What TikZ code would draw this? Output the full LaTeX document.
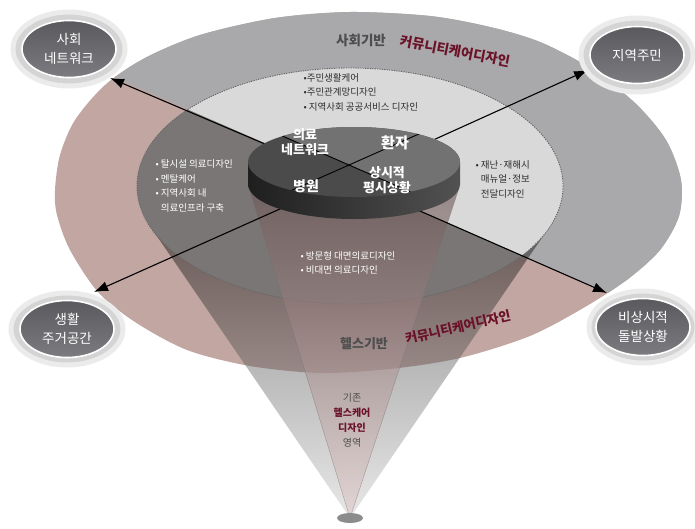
\documentclass[tikz,border=0pt]{standalone}
\usepackage{fontspec}
\setmainfont{Noto Sans CJK KR}
\usetikzlibrary{arrows.meta,shapes,positioning}
\definecolor{outergray}{HTML}{A9A9AB}
\definecolor{outerpink}{HTML}{C1A6A2}
\definecolor{innerlight}{HTML}{D9D9D9}
\definecolor{innerdark}{HTML}{7A7676}
\definecolor{discdark}{HTML}{4B4B4B}
\definecolor{disclight}{HTML}{727272}
\definecolor{carered}{HTML}{6B1228}
\definecolor{basegray}{HTML}{4E4E4E}
\definecolor{listgray}{HTML}{2E2E2E}
\definecolor{cornertop}{HTML}{5A5A5E}
\definecolor{cornerbot}{HTML}{7C7C80}
\definecolor{conetop}{HTML}{6E5555}
\definecolor{conebot}{HTML}{E2CACA}

\begin{document}
\begin{tikzpicture}[x=1pt,y=-1pt,
  corner/.style={ellipse,minimum width=94pt,minimum height=57pt,inner sep=0pt,
    top color=cornertop,bottom color=cornerbot,draw=white,line width=1.6pt,
    text=white,align=center,font=\fontsize{13.5}{19}\selectfont},
  halo/.style={fill=black!17,draw=black!8,line width=5pt},
  arr/.style={line width=1.1pt,-{Latex[length=14pt,width=10pt]}},
  dotline/.style={draw=black!60,line width=0.9pt,dash pattern=on 1.2pt off 1.2pt},
  disclabel/.style={text=white,align=center,font=\bfseries\fontsize{13}{15.5}\selectfont},
  items/.style={anchor=west,align=left,font=\fontsize{9.5}{14.5}\selectfont}]
\useasboundingbox (0,0) rectangle (695,528);

\coordinate (hub) at (347,179);
\coordinate (top) at (349,165);
\coordinate (tl) at (110,78);
\coordinate (tr) at (588,70);
\coordinate (bl) at (94,292);
\coordinate (br) at (607,293);

\def\outerline{(55,190) (60,155) (75,120) (105,85) (145,58) (200,35) (275,18) (350,12)
  (430,16) (490,27) (540,42) (590,68) (635,103) (666,140) (681,180) (679,216)
  (660,250) (628,279) (585,307) (530,336) (460,358) (390,369) (320,373) (250,366)
  (187,350) (135,322) (98,292) (70,250) (57,215)}

\fill[outerpink] plot[smooth cycle] coordinates {\outerline};
\begin{scope}
\clip plot[smooth cycle] coordinates {\outerline};
\fill[outergray] (-40,10) -- (760,359) -- (760,-40) -- (-40,-40) -- cycle;
\end{scope}

\shade[top color=black,bottom color=black!20,opacity=0.45] (350,518) -- (150,226) -- (550,226) -- cycle;

\fill[innerdark] (350,186) ellipse[x radius=213,y radius=118];
\begin{scope}
\clip (350,186) ellipse[x radius=213,y radius=118];
\fill[innerlight] (-40,10) -- (760,359) -- (760,-40) -- (-40,-40) -- cycle;
\end{scope}
\draw[dotline] (350,186) ellipse[x radius=213,y radius=118];

\shade[top color=conetop,bottom color=conebot,opacity=0.6] (350,518) -- (249,188) -- (459,188) -- cycle;
\draw[black!55,line width=0.4pt,opacity=0.6] (249,188) -- (350,518) -- (459,188);
\fill[black!45] (350,518) ellipse[x radius=13,y radius=5];

\draw[arr] (hub) -- (tl);
\draw[arr] (hub) -- (tr);
\draw[arr] (hub) -- (bl);
\draw[arr] (hub) -- (br);

\shade[left color=black!88,right color=black!68] (248,162) rectangle (460,184);
\shade[left color=black!88,right color=black!68] (354,184) ellipse[x radius=106,y radius=35];
\fill[discdark] (354,162) ellipse[x radius=106,y radius=35];
\begin{scope}
\clip (354,162) ellipse[x radius=106,y radius=35];
\fill[disclight] (200,100) -- (500,231) -- (500,80) -- (200,80) -- cycle;
\draw[line width=0.9pt] (200,100) -- (top) -- (500,231);
\draw[line width=0.9pt] (200,231) -- (top) -- (500,98);
\end{scope}

\node[text=basegray,font=\bfseries\fontsize{13.5}{15}\selectfont] (socialbase) at (361,40) {사회기반};
\node[text=carered,rotate=-11,font=\bfseries\fontsize{13.5}{15}\selectfont] (socialcare) at (455,51) {커뮤니티케어디자인};
\node[text=basegray,font=\bfseries\fontsize{13}{15}\selectfont] (healthbase) at (364,344) {헬스기반};
\node[text=carered,rotate=13,font=\bfseries\fontsize{13}{15}\selectfont] (healthcare) at (458,327) {커뮤니티케어디자인};

\node[disclabel] (medinet) at (305,142) {의료\\네트워크};
\node[disclabel,font=\bfseries\fontsize{15}{17}\selectfont] (patient) at (395,143) {환자};
\node[disclabel,font=\bfseries\fontsize{14}{16}\selectfont] (hospital) at (306,186) {병원};
\node[disclabel] (usual) at (387,180) {상시적\\평시상황};

\node[items,text=listgray] (topitems) at (300,92) {•주민생활케어\\•주민관계망디자인\\• 지역사회 공공서비스 디자인};
\node[items,text=white] (leftitems) at (152,186) {• 탈시설 의료디자인\\• 멘탈케어\\• 지역사회 내\\\phantom{• }의료인프라 구축};
\node[items,text=listgray] (rightitems) at (472,179) {• 재난·재해시\\\phantom{• }매뉴얼·정보\\\phantom{• }전달디자인};
\node[items,text=white] (bottomitems) at (297,263) {• 방문형 대면의료디자인\\• 비대면 의료디자인};

\node[align=center,font=\fontsize{10}{15}\selectfont] (oldarea) at (352,420)
  {\textcolor{basegray}{기존}\\\textcolor{carered}{\bfseries 헬스케어}\\\textcolor{carered}{\bfseries 디자인}\\\textcolor{basegray}{영역}};

\fill[halo] (69,49) ellipse[x radius=56,y radius=37];
\fill[halo] (637,55) ellipse[x radius=56,y radius=37];
\fill[halo] (67,329) ellipse[x radius=56,y radius=36];
\fill[halo] (643,327) ellipse[x radius=54,y radius=36];
\node[corner] (social) at (69,49) {사회\\네트워크};
\node[corner] (resident) at (637,55) {지역주민};
\node[corner] (living) at (67,329) {생활\\주거공간};
\node[corner] (emergency) at (643,327) {비상시적\\돌발상황};
\end{tikzpicture}
\end{document}
